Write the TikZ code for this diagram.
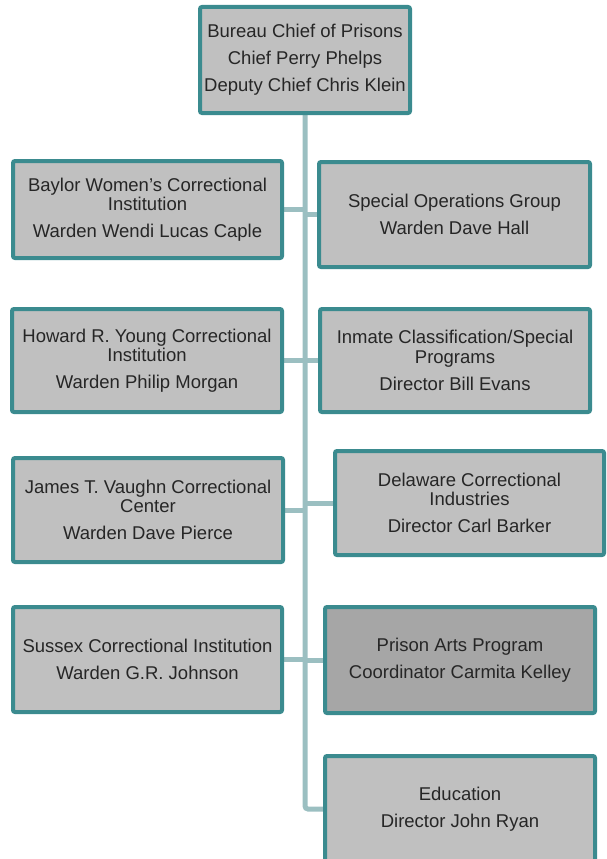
\documentclass[tikz,border=0pt]{standalone}
\usepackage{fontspec}
\setmainfont{Liberation Sans}
\usetikzlibrary{backgrounds}
\definecolor{boxedge}{RGB}{59,139,143}
\definecolor{boxfill}{RGB}{192,192,192}
\definecolor{boxdark}{RGB}{166,166,166}
\definecolor{linkc}{RGB}{155,191,193}
\definecolor{textc}{RGB}{38,38,38}
\begin{document}
\begin{tikzpicture}[x=1pt,y=-1pt,
  box/.style={draw=boxedge, line width=4pt, fill=boxfill, rounded corners=2pt,
    align=center, inner sep=0pt, text=textc,
    font=\fontsize{18.5}{19.5}\selectfont},
  link/.style={draw=linkc, line width=5pt}]
\useasboundingbox (0,0) rectangle (607,859);
\clip (0,0) rectangle (607,859);

\node[box, minimum width=210pt, minimum height=106pt] (top) at (305,60)
  {Bureau Chief of Prisons\\[7.5pt]Chief Perry Phelps\\[7.5pt]Deputy Chief Chris Klein};

\node[box, minimum width=269pt, minimum height=97pt] (bay) at (147.5,209.5)
  {Baylor Women’s Correctional\\Institution\\[7.5pt]Warden Wendi Lucas Caple};
\node[box, minimum width=271pt, minimum height=105pt] (sog) at (454.5,214.5)
  {Special Operations Group\\[7.5pt]Warden Dave Hall};

\node[box, minimum width=270pt, minimum height=103pt] (how) at (147,360.5)
  {Howard R. Young Correctional\\Institution\\[7.5pt]Warden Philip Morgan};
\node[box, minimum width=270pt, minimum height=103pt] (inm) at (455,360.5)
  {Inmate Classification/Special\\Programs\\[7.5pt]Director Bill Evans};

\node[box, minimum width=270pt, minimum height=104pt] (jam) at (148,510)
  {James T. Vaughn Correctional\\Center\\[7.5pt]Warden Dave Pierce};
\node[box, minimum width=269pt, minimum height=104pt] (del) at (469.5,503)
  {Delaware Correctional\\Industries\\[7.5pt]Director Carl Barker};

\node[box, minimum width=269pt, minimum height=105pt] (sus) at (147.5,659.5)
  {Sussex Correctional Institution\\[7.5pt]Warden G.R. Johnson};
\node[box, fill=boxdark, minimum width=270pt, minimum height=106pt] (art) at (460,660)
  {Prison Arts Program\\[7.5pt]Coordinator Carmita Kelley};

\node[box, minimum width=270pt, minimum height=106pt] (edu) at (460,809)
  {Education\\[7.5pt]Director John Ryan};

\begin{scope}[on background layer]
  \draw[link, rounded corners=3pt] (top.south) -- (top.south |- edu.west) -- (edu.west);
  \foreach \n in {bay,how,jam,sus,sog,inm,del,art}
    \draw[link] (\n) -- (\n -| top.south);
\end{scope}
\end{tikzpicture}
\end{document}
